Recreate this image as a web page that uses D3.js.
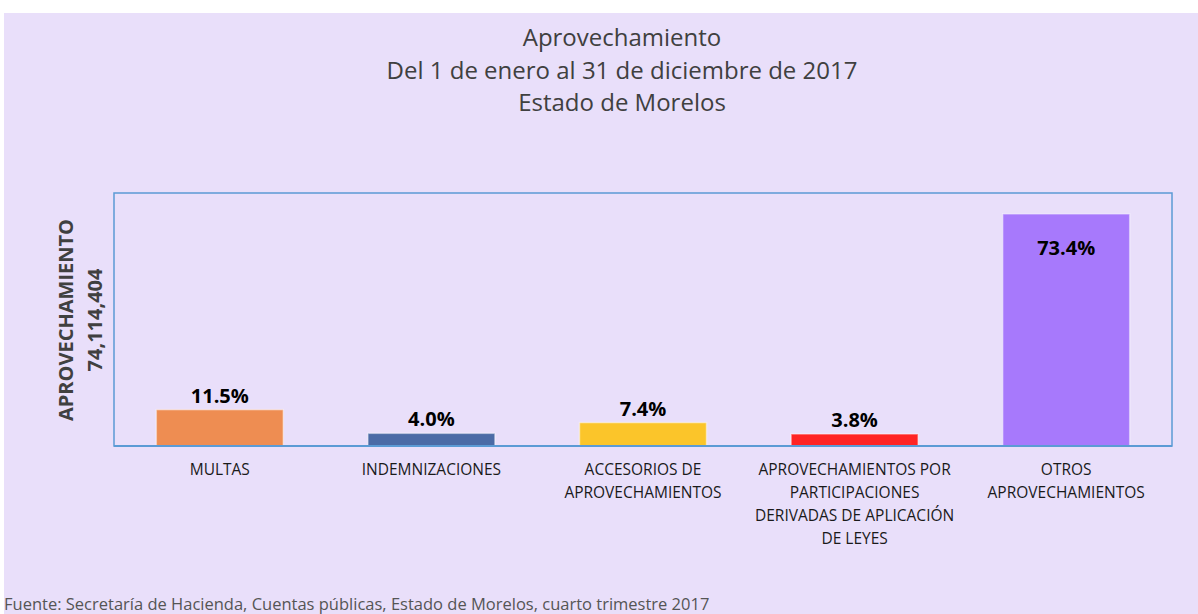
<!DOCTYPE html>
<html><head><meta charset="utf-8">
<script src="https://cdn.jsdelivr.net/npm/d3@7"></script>
<style>body{margin:0;background:#fff;}svg{display:block;}</style>
</head><body>
<script>
const categories = [
  ["MULTAS"],
  ["INDEMNIZACIONES"],
  ["ACCESORIOS DE", "APROVECHAMIENTOS"],
  ["APROVECHAMIENTOS POR", "PARTICIPACIONES", "DERIVADAS DE APLICACIÓN", "DE LEYES"],
  ["OTROS", "APROVECHAMIENTOS"]
];
const values = [11.5, 4.0, 7.4, 3.8, 73.4];
const colors = ["#EE8D52", "#4B6BA6", "#FBC52A", "#FF2424", "#A779FC"];
const titleLines = ["Aprovechamiento", "Del 1 de enero al 31 de diciembre de 2017", "Estado de Morelos"];
const yLabelLines = ["APROVECHAMIENTO", "74,114,404"];
const source = "Fuente: Secretaría de Hacienda, Cuentas públicas, Estado de Morelos, cuarto trimestre 2017";

const W = 1198, H = 614;
const font = "'Open Sans', 'Noto Sans', sans-serif";
const svg = d3.select("body").append("svg").attr("width", W).attr("height", H);
svg.append("rect").attr("x", 4).attr("y", 13).attr("width", W - 4).attr("height", H - 13).attr("fill", "#E9DFFA");

const m = {l: 114, r: 1172, t: 193, b: 446};
const x = d3.scaleBand().domain(d3.range(values.length)).range([m.l, m.r]).paddingInner(0.4).paddingOuter(0.2);
const y = d3.scaleLinear().domain([0, 80]).range([m.b, m.t]);

// title
svg.append("g").selectAll("text").data(titleLines).join("text")
  .attr("x", 622).attr("y", (d, i) => 46 + i * 32.5)
  .attr("text-anchor", "middle").attr("font-family", font).attr("font-size", 24)
  .attr("textLength", null)
  .attr("fill", "#404040").text(d => d);

// plot box
svg.append("rect").attr("x", m.l).attr("y", m.t).attr("width", m.r - m.l).attr("height", m.b - m.t)
  .attr("fill", "none").attr("stroke", "#5B9BD5").attr("stroke-width", 1.5);

// bars
svg.append("g").selectAll("rect").data(values).join("rect")
  .attr("x", (d, i) => x(i)).attr("width", x.bandwidth())
  .attr("y", d => y(d)).attr("height", d => y(0) - y(d))
  .attr("fill", (d, i) => colors[i]).attr("stroke", "rgba(255,255,255,0.45)").attr("stroke-width", 1.5);

// baseline
svg.append("line").attr("x1", m.l).attr("x2", m.r).attr("y1", m.b).attr("y2", m.b)
  .attr("stroke", "#5B9BD5").attr("stroke-width", 2);

// value labels
svg.append("g").selectAll("text").data(values).join("text")
  .attr("x", (d, i) => x(i) + x.bandwidth() / 2)
  .attr("y", d => d > 50 ? y(d) + 41 : y(d) - 7)
  .attr("text-anchor", "middle").attr("font-family", font).attr("font-weight", "bold")
  .attr("font-size", 20).attr("fill", "#000").text(d => d.toFixed(1) + "%");

// category labels
const cg = svg.append("g").selectAll("text").data(categories).join("text")
  .attr("text-anchor", "middle").attr("font-family", font).attr("font-size", 15.5).attr("fill", "#1a1a1a");
cg.each(function(lines, i) {
  d3.select(this).selectAll("tspan").data(lines).join("tspan")
    .attr("x", x(i) + x.bandwidth() / 2).attr("y", (d, j) => 475 + j * 23).text(d => d);
});

// y label
svg.append("g").selectAll("text").data(yLabelLines).join("text")
  .attr("transform", (d, i) => `translate(${73 + i * 29},320) rotate(-90)`)
  .attr("text-anchor", "middle").attr("font-family", font).attr("font-weight", "bold")
  .attr("font-size", 20).attr("fill", "#404040").text(d => d);

// source
svg.append("text").attr("x", 4).attr("y", 610).attr("font-family", font).attr("font-size", 16.5)
  .attr("fill", "#555").text(source);
</script>
</body></html>
